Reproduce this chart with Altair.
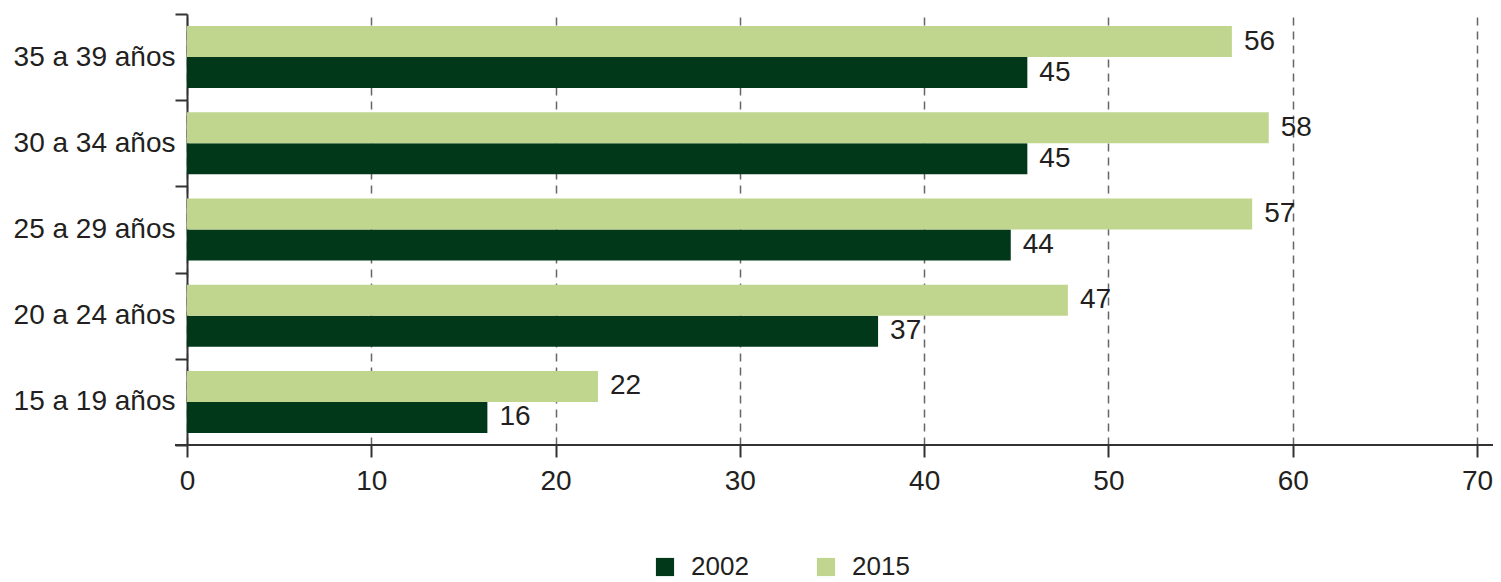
import altair as alt
import pandas as pd

groups = ["35 a 39 años", "30 a 34 años", "25 a 29 años", "20 a 24 años", "15 a 19 años"]
years = ["2002", "2015"]
v2002 = [45.6, 45.6, 44.7, 37.5, 16.3]
v2015 = [56.7, 58.7, 57.8, 47.8, 22.3]
lab2002 = ["45", "45", "44", "37", "16"]
lab2015 = ["56", "58", "57", "47", "22"]
x_ticks = [0, 10, 20, 30, 40, 50, 60, 70]
colors = ["#01381a", "#c0d68e"]

rows = []
for i, g in enumerate(groups):
    rows.append({"grupo": g, "anio": "2002", "valor": v2002[i], "etiqueta": lab2002[i]})
    rows.append({"grupo": g, "anio": "2015", "valor": v2015[i], "etiqueta": lab2015[i]})
df = pd.DataFrame(rows)

W, H = 1290, 431
FONT = "Liberation Sans"
TXT = "#231f20"
AX = "#333333"

y = alt.Y(
    "grupo:N", sort=groups, title=None,
    scale=alt.Scale(paddingInner=0, paddingOuter=0),
    axis=alt.Axis(tickBand="extent", tickSize=12, labelPadding=0, labelFontSize=28,
                  labelFont=FONT, labelColor=TXT, domainColor=AX, domainWidth=2,
                  tickColor=AX, tickWidth=2, grid=False),
)
yoff = alt.YOffset("anio:N", sort=["2015", "2002"],
                   scale=alt.Scale(paddingInner=0, paddingOuter=0.39))
x = alt.X(
    "valor:Q", title=None,
    scale=alt.Scale(domain=[0, 70], nice=False, zero=True),
    axis=alt.Axis(values=x_ticks, grid=True, gridDash=[8, 6], gridColor="#666666",
                  gridWidth=1.5, tickSize=12, tickColor=AX, tickWidth=2, domain=False,
                  labelFontSize=28, labelFont=FONT, labelColor=TXT, labelPadding=10,
                  labelFlush=False, labelOverlap=False),
)

bars = alt.Chart(df).mark_bar().encode(
    y=y, yOffset=yoff, x=x,
    color=alt.Color(
        "anio:N", scale=alt.Scale(domain=years, range=colors),
        legend=alt.Legend(orient="none", legendX=465, legendY=540, direction="horizontal",
                          title=None, symbolType="square", symbolSize=330,
                          labelFontSize=26, labelFont=FONT, labelColor=TXT,
                          labelOffset=13, columnPadding=64, symbolStrokeWidth=0,
                          padding=0),
    ),
)

texts = alt.Chart(df).mark_text(
    align="left", baseline="middle", dx=12, fontSize=28, font=FONT, color=TXT
).encode(y=y, yOffset=yoff, x=x, text="etiqueta:N")

axis_line = alt.Chart(pd.DataFrame({"a": [0]})).mark_rule(color=AX, strokeWidth=2).encode(
    x=alt.value(-12), x2=alt.value(W + 16), y=alt.value(H)
)

chart = alt.layer(bars, texts, axis_line).properties(
    width=W, height=H,
    autosize=alt.AutoSizeParams(type="none"),
    padding={"left": 179, "top": 6, "right": 16, "bottom": 137},
).configure(background="white").configure_view(stroke=None)

chart.save("out.html", embed_options={"renderer": "svg", "actions": False})
